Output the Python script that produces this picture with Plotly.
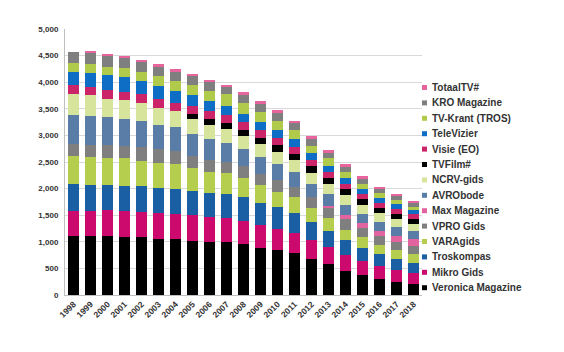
import plotly.graph_objects as go

years = ["1998", "1999", "2000", "2001", "2002", "2003", "2004", "2005", "2006", "2007",
         "2008", "2009", "2010", "2011", "2012", "2013", "2014", "2015", "2016", "2017", "2018"]

veronica = [1110, 1110, 1110, 1096, 1085, 1059, 1050, 1021, 1002, 996, 953, 889, 840, 789, 686, 583, 460, 370, 295, 239, 207]
mikro = [463, 475, 489, 489, 481, 477, 480, 477, 459, 457, 438, 421, 401, 376, 342, 314, 286, 272, 250, 231, 212]
troskompas = [513, 477, 470, 470, 489, 470, 460, 457, 462, 451, 451, 425, 407, 370, 347, 312, 282, 247, 226, 207, 188]
varagids = [527, 526, 501, 514, 470, 481, 470, 426, 389, 383, 351, 327, 294, 313, 267, 236, 200, 195, 174, 169, 164]
vpro = [225, 232, 244, 232, 251, 252, 245, 232, 226, 219, 232, 218, 220, 188, 200, 195, 200, 179, 164, 150, 150]
max_mag = [0, 0, 0, 0, 0, 0, 0, 0, 0, 0, 0, 0, 0, 0, 0, 33, 70, 84, 100, 113, 137]
avrobode = [540, 550, 527, 507, 495, 463, 445, 413, 389, 357, 325, 320, 300, 276, 251, 225, 197, 179, 169, 163, 151]
ncrv = [400, 389, 350, 357, 332, 319, 301, 282, 268, 257, 239, 238, 220, 226, 206, 191, 179, 166, 157, 162, 126]
tvfilm = [0, 0, 0, 0, 0, 0, 0, 94, 107, 107, 113, 113, 132, 107, 119, 119, 112, 107, 94, 89, 88]
visie = [164, 157, 163, 157, 175, 163, 162, 156, 157, 156, 144, 151, 142, 143, 126, 110, 103, 99, 94, 94, 100]
televizier = [255, 263, 276, 270, 250, 250, 225, 207, 182, 170, 156, 156, 146, 139, 125, 116, 113, 97, 106, 88, 75]
tvkrant = [158, 157, 163, 169, 170, 183, 183, 182, 199, 219, 213, 188, 175, 175, 138, 132, 113, 98, 82, 81, 62]
kro = [207, 219, 206, 200, 195, 174, 188, 170, 164, 143, 150, 144, 139, 125, 125, 112, 97, 91, 81, 75, 63]
totaaltv = [0, 31, 32, 37, 30, 45, 37, 43, 43, 38, 51, 57, 61, 50, 63, 51, 50, 50, 44, 37, 44]

series_names = ["Veronica Magazine", "Mikro Gids", "Troskompas", "VARAgids", "VPRO Gids",
                "Max Magazine", "AVRObode", "NCRV-gids", "TVFilm#", "Visie (EO)",
                "TeleVizier", "TV-Krant (TROS)", "KRO Magazine", "TotaalTV#"]
series_values = [veronica, mikro, troskompas, varagids, vpro, max_mag, avrobode, ncrv,
                 tvfilm, visie, televizier, tvkrant, kro, totaaltv]
series_colors = ["#000000", "#CC0A6E", "#1A5FA3", "#B5CE4E", "#7F7F7F", "#E2649E",
                 "#5A7DA8", "#D7E59C", "#000000", "#CC2468", "#0E6EC6", "#B0CB4C",
                 "#7F7F7F", "#E8649C"]

W, H = 564, 352
L, R, T, B = 65, 142, 29, 57
PW, PH = W - L - R, H - T - B

fig = go.Figure()
for name, vals, col in zip(series_names, series_values, series_colors):
    fig.add_bar(x=years, y=vals, name=name, marker_color=col, marker_line_width=0)

font_fam = "Liberation Sans, Arial, sans-serif"

# custom compact legend (top to bottom = reversed stacking order)
shapes, annotations = [], []
leg_top, leg_step = 87.5, 15.4
for i, idx in enumerate(range(len(series_names) - 1, -1, -1)):
    py = leg_top + i * leg_step
    x0 = (422 - L) / PW
    x1 = (427 - L) / PW
    y0 = (H - B - (py + 2.5)) / PH
    y1 = (H - B - (py - 2.5)) / PH
    shapes.append(dict(type="rect", xref="paper", yref="paper", x0=x0, x1=x1, y0=y0, y1=y1,
                       fillcolor=series_colors[idx], line=dict(width=0)))
    annotations.append(dict(xref="paper", yref="paper", x=(430 - L) / PW, y=(H - B - py) / PH,
                            text=series_names[idx], showarrow=False, xanchor="left", yanchor="middle",
                            font=dict(family=font_fam, size=10, color="#333333", weight="bold")))

fig.update_layout(
    width=W, height=H,
    margin=dict(l=L, r=R, t=T, b=B),
    barmode="stack", bargap=0.33,
    showlegend=False,
    plot_bgcolor="white", paper_bgcolor="white",
    shapes=shapes, annotations=annotations,
    xaxis=dict(type="category", tickangle=-45, showgrid=False, showline=True, linecolor="#BFBFBF",
               ticks="", tickfont=dict(family=font_fam, size=8.5, color="#333333", weight="bold")),
    yaxis=dict(range=[0, 5000], dtick=500, tickformat=",", showgrid=True, gridcolor="#D9D9D9",
               showline=True, linecolor="#BFBFBF", zeroline=False, ticks="",
               ticklabelstandoff=4,
               tickfont=dict(family=font_fam, size=8, color="#333333", weight="bold")),
)

fig.write_html("out.html")
